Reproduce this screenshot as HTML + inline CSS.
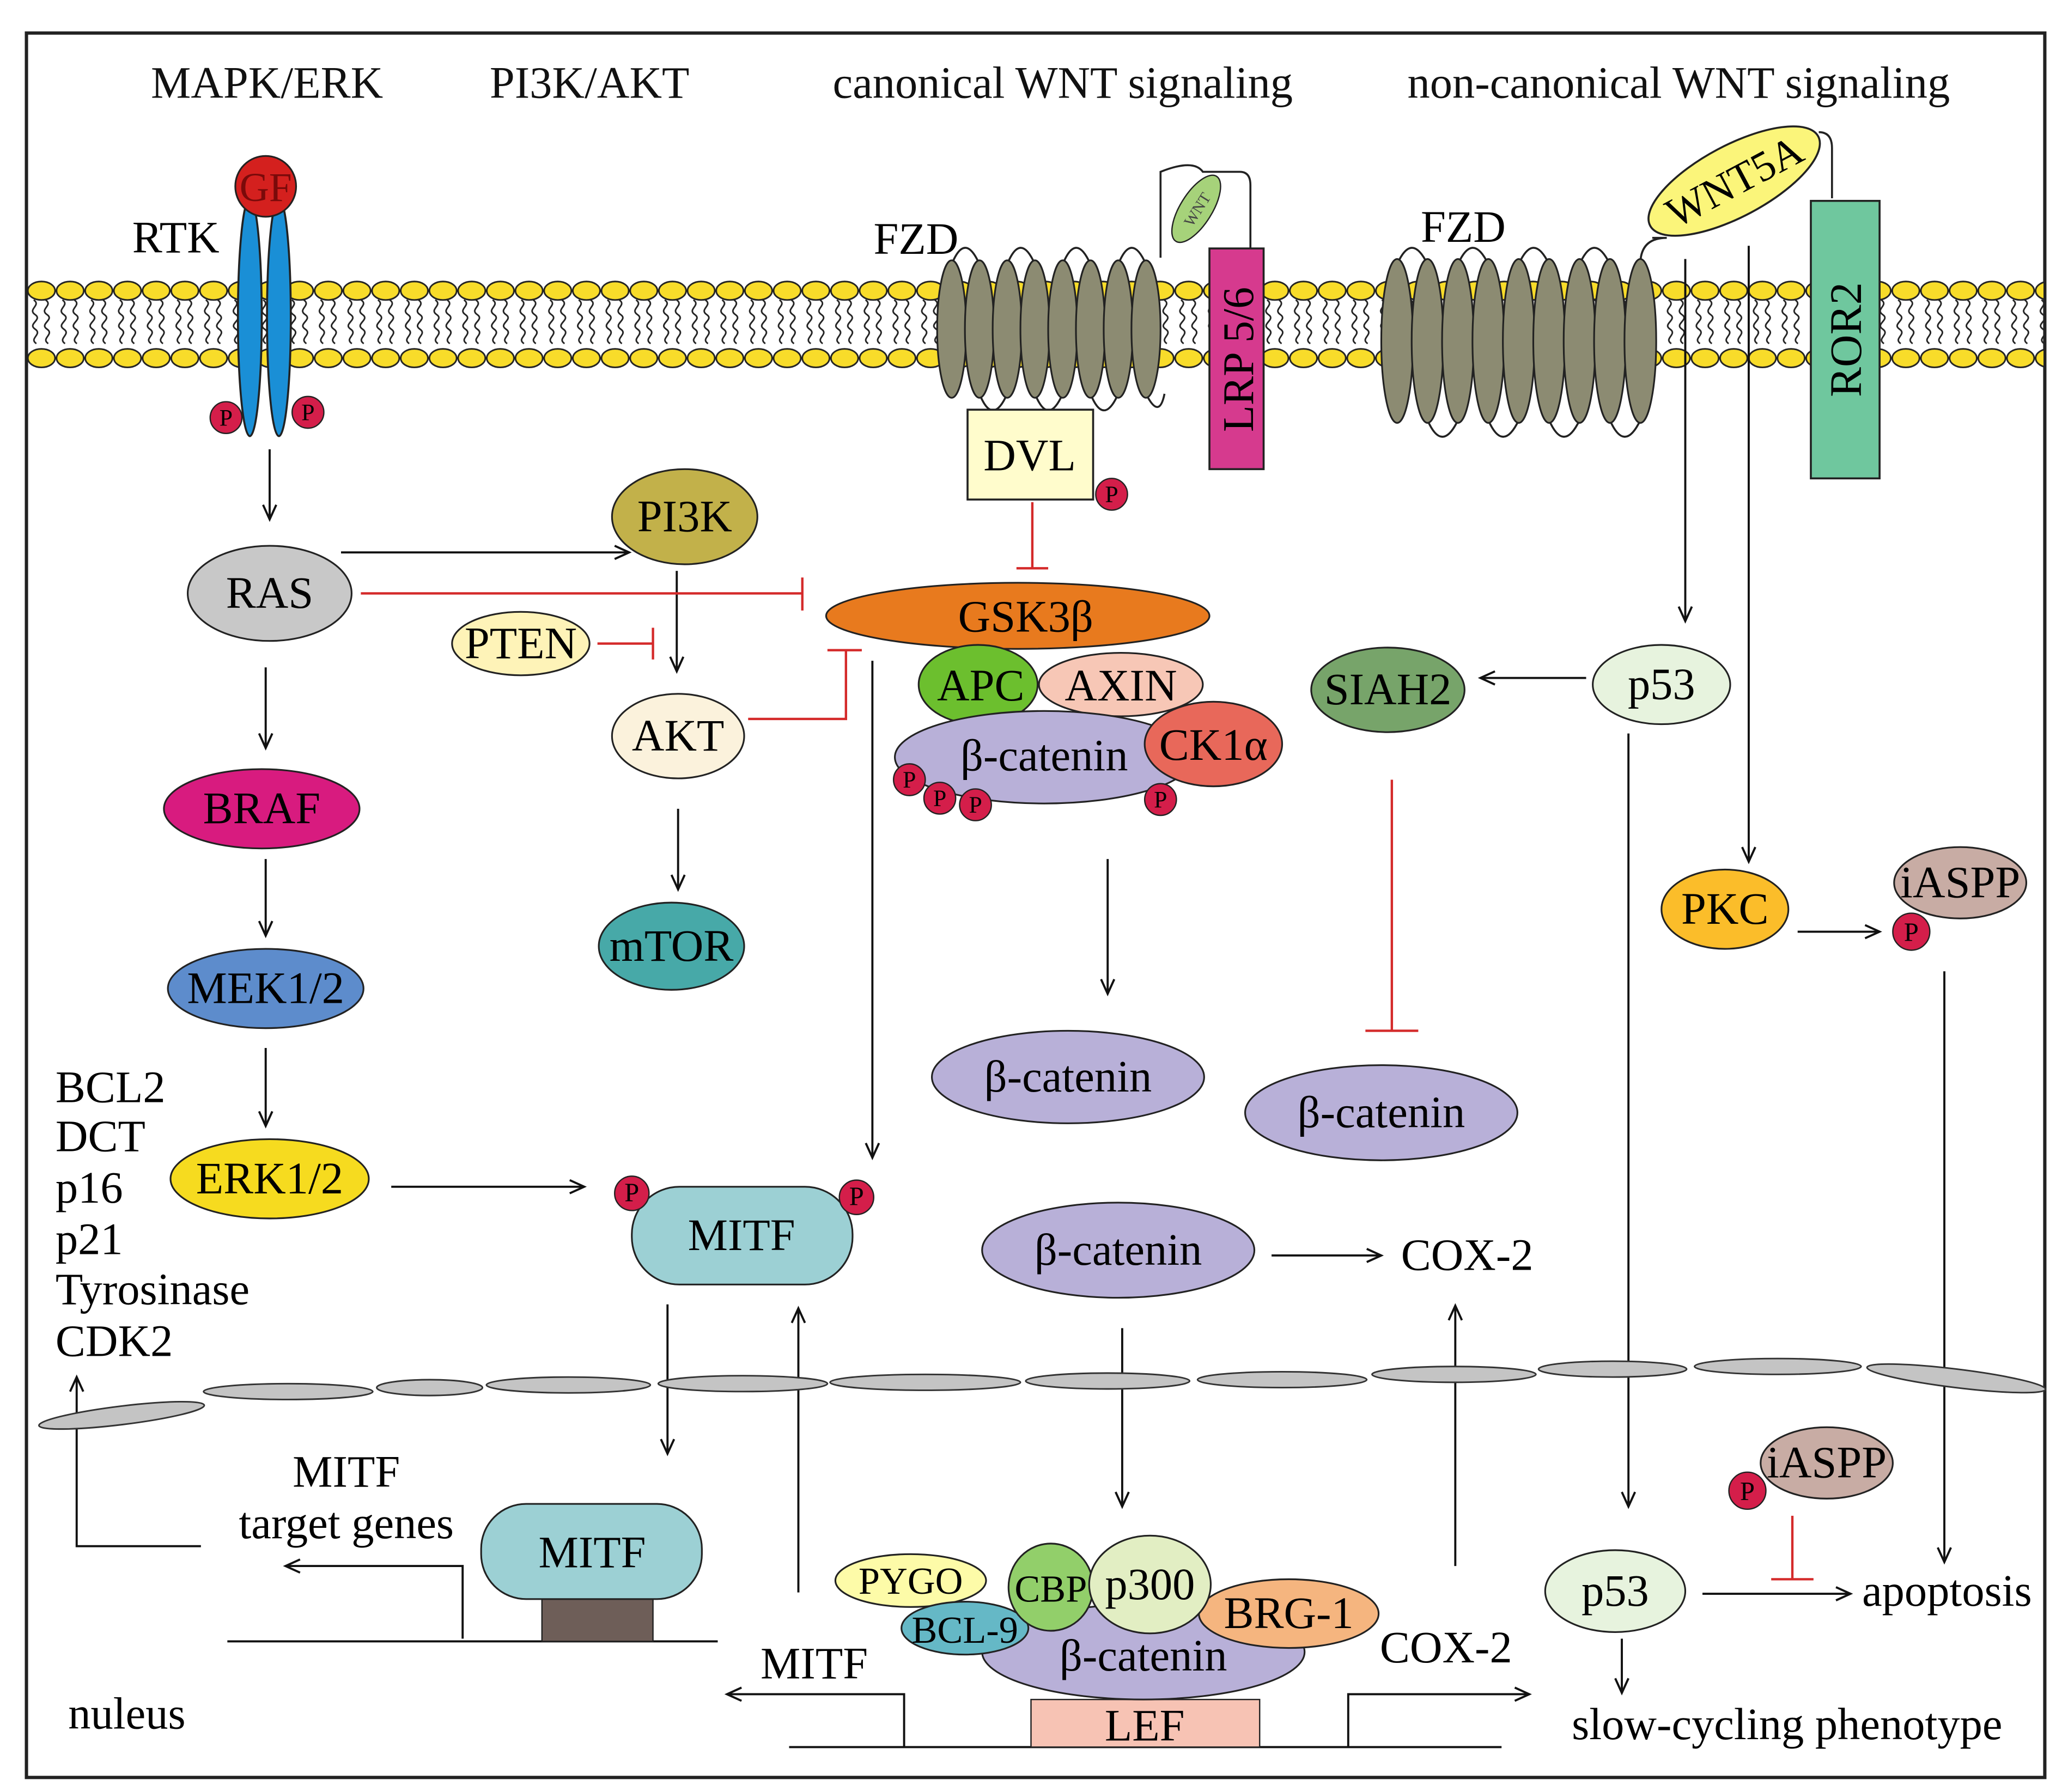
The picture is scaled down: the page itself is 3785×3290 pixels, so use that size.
<!DOCTYPE html>
<html><head><meta charset="utf-8"><style>html,body{margin:0;padding:0;background:#fff}svg{display:block}</style></head>
<body>
<svg width="3785" height="3290" viewBox="0 0 1560 1356" xmlns="http://www.w3.org/2000/svg" font-family="Liberation Serif, serif" font-size="34">
<defs>
<marker id="a" markerWidth="14" markerHeight="12" refX="12" refY="6" orient="auto" markerUnits="userSpaceOnUse"><path d="M1,1 L12,6 L1,11" fill="none" stroke="#111" stroke-width="1.6"/></marker>
<pattern id="mem" x="20.5" y="0" width="21.7" height="1356" patternUnits="userSpaceOnUse">
<path d="M5,227 c6,4 -5,7 1,11 s-6,7 0,11 s-5,7 1,11 M14,227 c6,4 -5,7 1,11 s-6,7 0,11 s-5,7 1,11" fill="none" stroke="#222" stroke-width="1.2"/>
<ellipse cx="10.85" cy="220" rx="10.3" ry="7" fill="#f8dc2a" stroke="#222" stroke-width="1.2"/>
<ellipse cx="10.85" cy="271" rx="10.3" ry="7" fill="#f8dc2a" stroke="#222" stroke-width="1.2"/>
</pattern>
</defs>
<rect width="1560" height="1356" fill="#fff"/>
<rect x="20" y="25" width="1527" height="1320" fill="none" stroke="#222" stroke-width="2.5"/>
<g text-anchor="middle" fill="#111">
<text x="202" y="74">MAPK/ERK</text><text x="446" y="74">PI3K/AKT</text>
<text x="804" y="74">canonical WNT signaling</text><text x="1270" y="74">non-canonical WNT signaling</text>
</g>
<!-- membrane -->
<rect x="21" y="210" width="1525" height="70" fill="url(#mem)"/>
<!-- RTK -->
<text x="133" y="191" text-anchor="middle">RTK</text>
<ellipse cx="189" cy="240" rx="9" ry="90" fill="#1a8fd6" stroke="#222" stroke-width="1.5"/>
<ellipse cx="211" cy="240" rx="9" ry="90" fill="#1a8fd6" stroke="#222" stroke-width="1.5"/>
<circle cx="201" cy="141" r="23" fill="#d4201e" stroke="#222" stroke-width="1.3"/>
<text x="201" y="152" text-anchor="middle" fill="#7a0a0a" font-size="31">GF</text>
<g font-size="18" text-anchor="middle">
<circle cx="171" cy="316" r="12" fill="#d41e4a" stroke="#222"/><text x="171" y="322">P</text>
<circle cx="233" cy="312" r="12" fill="#d41e4a" stroke="#222"/><text x="233" y="318">P</text>
</g>
<!-- FZD canonical -->
<text x="693" y="192" text-anchor="middle">FZD</text>
<g fill="none" stroke="#222" stroke-width="1.5">
<path d="M720,200 q10,-25 21,0 M762,200 q10,-25 21,0 M804,200 q10,-25 21,0 M846,200 q10,-25 21,0"/>
<path d="M741,298 q10,25 21,0 M783,298 q10,25 21,0 M825,298 q10,25 21,0 M867,298 q10,20 14,0"/>
<path d="M878,195 L878,130 q25,-10 32,0 L938,130 q8,0 8,10 L946,190"/>
</g>
<g fill="#8c8b72" stroke="#222" stroke-width="1.3">
<ellipse cx="720" cy="249" rx="11" ry="52"/><ellipse cx="741" cy="249" rx="11" ry="52"/>
<ellipse cx="762" cy="249" rx="11" ry="52"/><ellipse cx="783" cy="249" rx="11" ry="52"/>
<ellipse cx="804" cy="249" rx="11" ry="52"/><ellipse cx="825" cy="249" rx="11" ry="52"/>
<ellipse cx="846" cy="249" rx="11" ry="52"/><ellipse cx="867" cy="249" rx="11" ry="52"/>
</g>
<ellipse cx="905" cy="158" rx="29" ry="12" transform="rotate(-58 905 158)" fill="#a6d27a" stroke="#222"/>
<text x="905" y="163" font-size="12" text-anchor="middle" transform="rotate(-58 905 158)" fill="#444">WNT</text>
<rect x="915" y="188" width="41" height="167" fill="#d63a8e" stroke="#222" stroke-width="1.5"/>
<text transform="translate(948,272) rotate(-90)" text-anchor="middle" font-size="33">LRP 5/6</text>
<rect x="732" y="310" width="95" height="68" fill="#fffccc" stroke="#222" stroke-width="1.5"/>
<text x="779" y="356" text-anchor="middle">DVL</text>
<circle cx="841" cy="374" r="12" fill="#d41e4a" stroke="#222"/><text x="841" y="380" font-size="18" text-anchor="middle">P</text>
<!-- FZD noncanonical -->
<text x="1107" y="183" text-anchor="middle">FZD</text>
<g fill="none" stroke="#222" stroke-width="1.5">
<path d="M1057,200 q11,-25 23,0 M1103,200 q11,-25 23,0 M1149,200 q11,-25 23,0 M1195,200 q11,-25 23,0 M1241,200 q0,-20 20,-20 L1250,180"/>
<path d="M1080,318 q11,25 23,0 M1126,318 q11,25 23,0 M1172,318 q11,25 23,0 M1218,318 q11,25 23,0"/>
</g>
<g fill="#8c8b72" stroke="#222" stroke-width="1.3">
<ellipse cx="1057" cy="258" rx="12" ry="62"/><ellipse cx="1080" cy="258" rx="12" ry="62"/>
<ellipse cx="1103" cy="258" rx="12" ry="62"/><ellipse cx="1126" cy="258" rx="12" ry="62"/>
<ellipse cx="1149" cy="258" rx="12" ry="62"/><ellipse cx="1172" cy="258" rx="12" ry="62"/>
<ellipse cx="1195" cy="258" rx="12" ry="62"/><ellipse cx="1218" cy="258" rx="12" ry="62"/>
<ellipse cx="1241" cy="258" rx="12" ry="62"/>
</g>
<path d="M1376,100 q10,0 10,12 L1386,150" fill="none" stroke="#222" stroke-width="1.5"/>
<ellipse cx="1312" cy="137" rx="72" ry="27" transform="rotate(-28 1312 137)" fill="#fbf57a" stroke="#222" stroke-width="1.5"/>
<text x="1312" y="148" text-anchor="middle" transform="rotate(-28 1312 137)" font-size="32">WNT5A</text>
<rect x="1370" y="152" width="52" height="210" fill="#6fc79e" stroke="#222" stroke-width="1.5"/>
<text transform="translate(1408,257) rotate(-90)" text-anchor="middle">ROR2</text>
<!-- connectors -->
<g stroke="#111" stroke-width="1.6" fill="none" marker-end="url(#a)">
<path d="M1275,196 V470"/><path d="M1323,186 V652"/>
<path d="M1200,513 H1120"/><path d="M838,650 V752"/>
<path d="M1360,705 H1422"/><path d="M1471,735 V1182"/>
<path d="M204,340 V393"/><path d="M258,418 H476"/><path d="M512,432 V508"/>
<path d="M513,612 V673"/><path d="M201,650 V708"/><path d="M201,505 V566"/><path d="M201,793 V852"/>
<path d="M296,898 H442"/><path d="M660,500 V876"/>
<path d="M962,950 H1045"/>
<path d="M505,987 V1100"/><path d="M604,1205 V990"/><path d="M849,1005 V1140"/><path d="M1101,1185 V988"/>
<path d="M1232,555 V1140"/>
<path d="M152,1170 H58 V1042"/>
<path d="M350,1240 V1185 H216"/>
<path d="M684,1322 V1282 H550"/><path d="M1020,1322 V1282 H1157"/>
<path d="M1288,1206 H1400"/><path d="M1227,1240 V1281"/>
</g>
<g stroke="#d42a2a" stroke-width="1.8" fill="none">
<path d="M781,380 V430 M769,430 H793"/>
<path d="M273,449 H607 M607,437 V462"/>
<path d="M452,487 H494 M494,475 V499"/>
<path d="M566,544 H640 V492 M626,492 H652"/>
<path d="M1053,590 V780 M1033,780 H1073"/>
<path d="M1356,1147 V1195 M1340,1195 H1372"/>
</g>
<!-- canonical complex -->
<g stroke="#222" stroke-width="1.3">
<ellipse cx="770" cy="466" rx="145" ry="25" fill="#e87a1e"/>
<ellipse cx="740" cy="518" rx="45" ry="30" fill="#6cbf2e"/>
<ellipse cx="848" cy="518" rx="62" ry="24" fill="#f7c7b6"/>
<ellipse cx="790" cy="573" rx="113" ry="35" fill="#b8b0d8"/>
<ellipse cx="918" cy="563" rx="52" ry="32" fill="#e8685a"/>
</g>
<g text-anchor="middle">
<text x="776" y="478">GSK3β</text><text x="742" y="530">APC</text><text x="848" y="530">AXIN</text>
<text x="790" y="583">β-catenin</text><text x="918" y="575">CK1α</text>
</g>
<g font-size="18" text-anchor="middle" stroke="#222">
<circle cx="688" cy="590" r="12" fill="#d41e4a"/><circle cx="711" cy="604" r="12" fill="#d41e4a"/>
<circle cx="738" cy="609" r="12" fill="#d41e4a"/><circle cx="878" cy="605" r="12" fill="#d41e4a"/>
</g>
<g font-size="18" text-anchor="middle"><text x="688" y="596">P</text><text x="711" y="610">P</text><text x="738" y="615">P</text><text x="878" y="611">P</text></g>
<!-- nodes -->
<g stroke="#222" stroke-width="1.3">
<ellipse cx="1257" cy="518" rx="52" ry="30" fill="#e7f3de"/>
<ellipse cx="1050" cy="522" rx="58" ry="32" fill="#77a46a"/>
<ellipse cx="1045" cy="842" rx="103" ry="36" fill="#b8b0d8"/>
<ellipse cx="808" cy="815" rx="103" ry="35" fill="#b8b0d8"/>
<ellipse cx="1305" cy="688" rx="48" ry="30" fill="#fbbd2a"/>
<ellipse cx="1483" cy="668" rx="50" ry="27" fill="#c8aca4"/>
<ellipse cx="204" cy="449" rx="62" ry="36" fill="#c8c8c8"/>
<ellipse cx="518" cy="391" rx="55" ry="36" fill="#c2b14a"/>
<ellipse cx="394" cy="487" rx="52" ry="24" fill="#fef3b8"/>
<ellipse cx="513" cy="557" rx="50" ry="32" fill="#fbf2dc"/>
<ellipse cx="508" cy="716" rx="55" ry="33" fill="#47a9a8"/>
<ellipse cx="198" cy="612" rx="74" ry="30" fill="#d81b7f"/>
<ellipse cx="201" cy="748" rx="74" ry="30" fill="#5d8ccc"/>
<ellipse cx="204" cy="892" rx="75" ry="30" fill="#f6db1f"/>
<rect x="478" y="898" width="167" height="74" rx="36" fill="#9cd0d4"/>
<ellipse cx="846" cy="946" rx="103" ry="36" fill="#b8b0d8"/>
<ellipse cx="1222" cy="1204" rx="53" ry="31" fill="#e7f3de"/>
<ellipse cx="1382" cy="1107" rx="50" ry="27" fill="#c8aca4"/>
</g>
<g font-size="18" text-anchor="middle" stroke="#222">
<circle cx="1446" cy="705" r="14" fill="#d41e4a"/><circle cx="478" cy="903" r="13" fill="#d41e4a"/>
<circle cx="648" cy="906" r="13" fill="#d41e4a"/><circle cx="1322" cy="1128" r="14" fill="#d41e4a"/>
</g>
<g font-size="20" text-anchor="middle"><text x="1446" y="712">P</text><text x="478" y="909">P</text><text x="648" y="912">P</text><text x="1322" y="1135">P</text></g>
<g text-anchor="middle">
<text x="1257" y="529">p53</text><text x="1050" y="533">SIAH2</text>
<text x="1045" y="853">β-catenin</text><text x="808" y="826">β-catenin</text>
<text x="1305" y="699">PKC</text><text x="1483" y="679">iASPP</text>
<text x="204" y="460">RAS</text><text x="518" y="402">PI3K</text><text x="394" y="498">PTEN</text>
<text x="513" y="568">AKT</text><text x="508" y="727">mTOR</text><text x="198" y="623">BRAF</text>
<text x="201" y="759">MEK1/2</text><text x="204" y="903">ERK1/2</text><text x="561" y="946">MITF</text>
<text x="846" y="957">β-catenin</text><text x="1110" y="961">COX-2</text>
<text x="1222" y="1215">p53</text><text x="1382" y="1118">iASPP</text>
</g>
<g>
<text x="42" y="834">BCL2</text><text x="42" y="871">DCT</text><text x="42" y="910">p16</text>
<text x="42" y="949">p21</text><text x="42" y="987">Tyrosinase</text><text x="42" y="1026">CDK2</text>
</g>
<!-- nuclear membrane -->
<g fill="#c4c4c4" stroke="#333" stroke-width="1.2">
<ellipse cx="92" cy="1071" rx="63" ry="7" transform="rotate(-7 92 1071)"/>
<ellipse cx="218" cy="1053" rx="64" ry="6"/><ellipse cx="325" cy="1050" rx="40" ry="6"/>
<ellipse cx="430" cy="1048" rx="62" ry="6"/><ellipse cx="562" cy="1047" rx="64" ry="6"/>
<ellipse cx="700" cy="1046" rx="72" ry="6"/><ellipse cx="838" cy="1045" rx="62" ry="6"/>
<ellipse cx="970" cy="1044" rx="64" ry="6"/><ellipse cx="1100" cy="1040" rx="62" ry="6"/>
<ellipse cx="1220" cy="1036" rx="56" ry="6"/><ellipse cx="1345" cy="1034" rx="63" ry="6"/>
<ellipse cx="1480" cy="1043" rx="68" ry="7" transform="rotate(7 1480 1043)"/>
</g>
<!-- nucleus -->
<g text-anchor="middle"><text x="262" y="1125">MITF</text><text x="262" y="1164">target genes</text></g>
<path d="M172,1242 H543" stroke="#111" stroke-width="1.6"/>
<rect x="410" y="1205" width="84" height="37" fill="#6e5e58" stroke="#222"/>
<rect x="364" y="1138" width="167" height="72" rx="34" fill="#9cd0d4" stroke="#222" stroke-width="1.3"/>
<text x="448" y="1186" text-anchor="middle">MITF</text>
<path d="M597,1322 H1136" stroke="#111" stroke-width="1.6"/>
<rect x="780" y="1286" width="173" height="36" fill="#f7c3b4" stroke="#222"/>
<g stroke="#222" stroke-width="1.3">
<ellipse cx="865" cy="1250" rx="122" ry="36" fill="#b8b0d8"/>
<ellipse cx="689" cy="1196" rx="57" ry="20" fill="#fdfba8"/>
<ellipse cx="730" cy="1232" rx="48" ry="20" fill="#65b8c6"/>
<ellipse cx="975" cy="1221" rx="68" ry="26" fill="#f5b57f"/>
<ellipse cx="795" cy="1201" rx="32" ry="33" fill="#92cf6a"/>
<ellipse cx="870" cy="1199" rx="46" ry="37" fill="#e2eec3"/>
</g>
<g text-anchor="middle">
<text x="865" y="1264">β-catenin</text><text x="866" y="1317">LEF</text>
<text x="689" y="1206" font-size="29">PYGO</text><text x="730" y="1243" font-size="29">BCL-9</text>
<text x="975" y="1232">BRG-1</text><text x="795" y="1212" font-size="29">CBP</text><text x="870" y="1210">p300</text>
<text x="616" y="1270">MITF</text><text x="1094" y="1258">COX-2</text>
<text x="1473" y="1215">apoptosis</text><text x="1352" y="1316">slow-cycling phenotype</text>
<text x="96" y="1308">nuleus</text>
</g>
</svg>
</body></html>
